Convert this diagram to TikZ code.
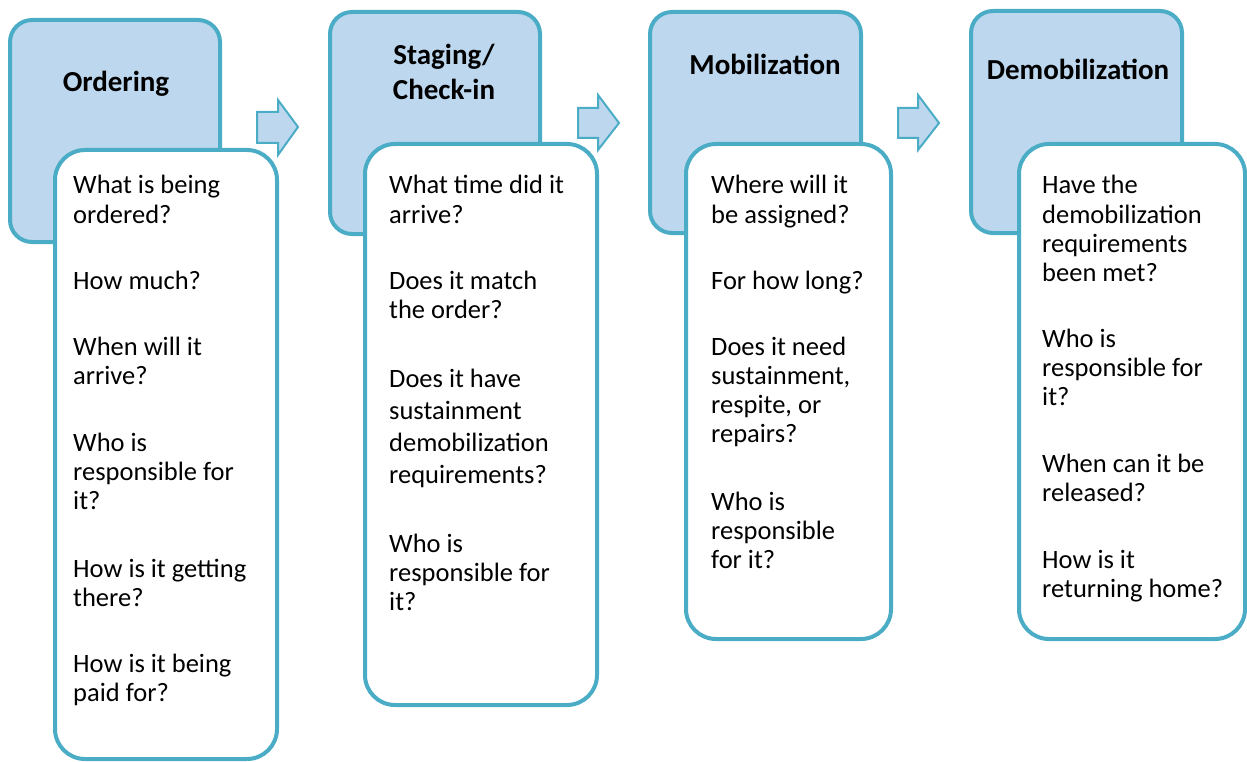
\documentclass[tikz,border=0pt]{standalone}
\usepackage{fontspec}
\setmainfont{Carlito}
\definecolor{edgeblue}{RGB}{75,172,198}
\definecolor{paleblue}{RGB}{189,215,238}
\tikzset{
  bluebox/.style={draw=edgeblue, fill=paleblue, line width=4pt, rounded corners=22pt, inner sep=0pt},
  whitebox/.style={draw=edgeblue, fill=white, line width=4pt, rounded corners=30pt, inner sep=0pt},
  titletext/.style={font=\bfseries\fontsize{29}{35}\selectfont, inner sep=0pt, anchor=base},
  qtext/.style={font=\fontsize{26.5}{29.3}\selectfont, inner sep=0pt, anchor=base west},
  blockarrow/.style={draw=edgeblue, fill=paleblue, line width=2pt, line join=miter}
}
\newcommand{\qlines}[1]{\parbox[t]{240pt}{\raggedright #1}}
\begin{document}
\begin{tikzpicture}[x=1pt,y=-1pt]
\useasboundingbox (0,0) rectangle (1247,762);
% header boxes
\node[bluebox, minimum width=210pt, minimum height=222pt] (b1) at (115,131) {};
\node[bluebox, minimum width=210pt, minimum height=222pt] (b2) at (435,123) {};
\node[bluebox, minimum width=211pt, minimum height=221pt] (b3) at (755.5,122.5) {};
\node[bluebox, minimum width=211pt, minimum height=222pt] (b4) at (1076.5,122) {};
% titles
\node[titletext] (h1) at (116,92) {Ordering};
\node[titletext] (h2) at (444,65) {\parbox[t]{200pt}{\centering Staging/\\Check-in}};
\node[titletext] (h3) at (765,75) {Mobilization};
\node[titletext] (h4) at (1078,80) {Demobilization};
% block arrows
\draw[blockarrow] (257,112) -- (278,112) -- (278,100) -- (298,127) -- (278,155) -- (278,143) -- (257,143) -- cycle;
\draw[blockarrow] (578,108) -- (598,108) -- (598,95) -- (619,123) -- (598,150) -- (598,138) -- (578,138) -- cycle;
\draw[blockarrow] (898,108) -- (918,108) -- (918,95) -- (939,123) -- (918,150) -- (918,138) -- (898,138) -- cycle;
% question boxes
\node[whitebox, minimum width=222pt, minimum height=609pt] (w1) at (166,454.5) {};
\node[whitebox, minimum width=232pt, minimum height=561pt] (w2) at (481,424.5) {};
\node[whitebox, minimum width=205pt, minimum height=495pt] (w3) at (788.5,391.5) {};
\node[whitebox, minimum width=226pt, minimum height=495pt] (w4) at (1132,391.5) {};
% column 1
\node[qtext] (q1a) at (73,194) {\qlines{What is being\\ordered?}};
\node[qtext] (q1b) at (73,289) {\qlines{How much?}};
\node[qtext] (q1c) at (73,355) {\qlines{When will it\\arrive?}};
\node[qtext] (q1d) at (73,451) {\qlines{Who is\\responsible for\\it?}};
\node[qtext] (q1e) at (73,577) {\qlines{How is it getting\\there?}};
\node[qtext] (q1f) at (73,672) {\qlines{How is it being\\paid for?}};
% column 2
\node[qtext] (q2a) at (389,194) {\qlines{What time did it\\arrive?}};
\node[qtext] (q2b) at (389,289) {\qlines{Does it match\\the order?}};
\node[qtext, font=\fontsize{26.5}{32.3}\selectfont] (q2c) at (389,387) {\qlines{Does it have\\sustainment\\demobilization\\requirements?}};
\node[qtext] (q2d) at (389,552) {\qlines{Who is\\responsible for\\it?}};
% column 3
\node[qtext] (q3a) at (711,194) {\qlines{Where will it\\be assigned?}};
\node[qtext] (q3b) at (711,289) {\qlines{For how long?}};
\node[qtext] (q3c) at (711,355) {\qlines{Does it need\\sustainment,\\respite, or\\repairs?}};
\node[qtext] (q3d) at (711,510) {\qlines{Who is\\responsible\\for it?}};
% column 4
\node[qtext] (q4a) at (1042,194) {\qlines{Have the\\demobilization\\requirements\\been met?}};
\node[qtext] (q4b) at (1042,347) {\qlines{Who is\\responsible for\\it?}};
\node[qtext] (q4c) at (1042,472) {\qlines{When can it be\\released?}};
\node[qtext] (q4d) at (1042,568) {\qlines{How is it\\returning home?}};
\end{tikzpicture}
\end{document}
